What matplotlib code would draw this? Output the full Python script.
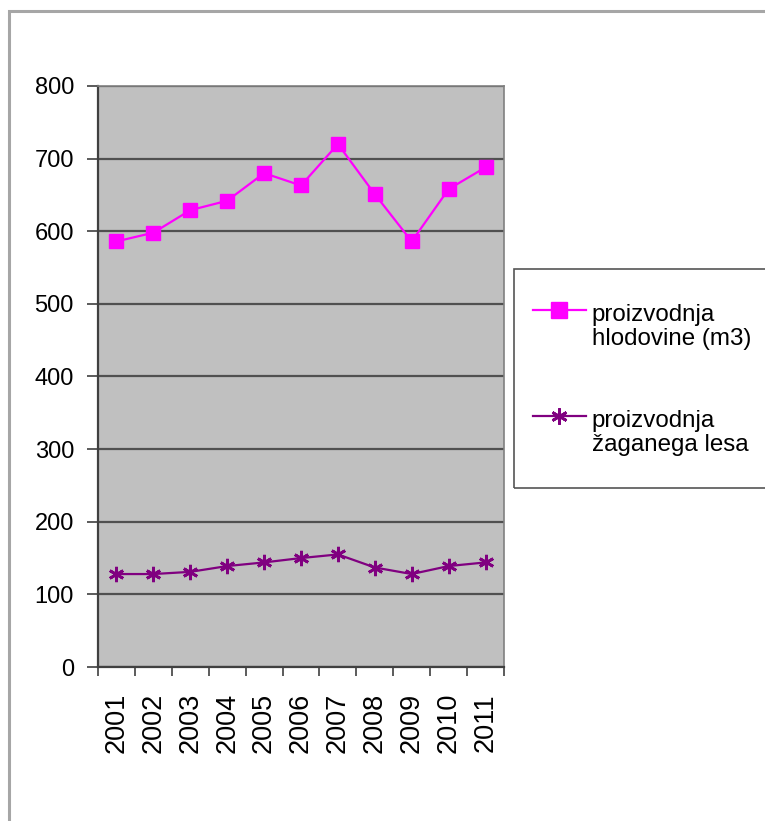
import matplotlib
matplotlib.use("Agg")
import matplotlib.pyplot as plt
from matplotlib.patches import Rectangle
from matplotlib.legend_handler import HandlerLine2D

years = ["2001", "2002", "2003", "2004", "2005", "2006", "2007", "2008", "2009", "2010", "2011"]
hlodovina = [586, 598, 629, 642, 680, 663, 720, 651, 586, 658, 688]
zagan_les = [128, 128, 131, 139, 144, 150, 155, 137, 128, 139, 144]
label_1 = "proizvodnja\nhlodovine (m3)"
label_2 = "proizvodnja\nžaganega lesa"
y_ticks = [0, 100, 200, 300, 400, 500, 600, 700, 800]

plt.rcParams['font.family'] = ['Liberation Sans', 'DejaVu Sans']


class UpperHandler(HandlerLine2D):
    """Place the legend handle level with the first line of a two-line label."""
    def __init__(self, shift, **kw):
        super().__init__(**kw)
        self.shift = shift

    def create_artists(self, legend, orig_handle, xdescent, ydescent, width, height,
                       fontsize, trans):
        arts = super().create_artists(legend, orig_handle, xdescent, ydescent, width,
                                      height, fontsize, trans)
        for a in arts:
            a.set_ydata([v + self.shift for v in a.get_ydata()])
        return arts


W, H = 765, 821
fig = plt.figure(figsize=(W / 100, H / 100), dpi=100)
fig.patch.set_facecolor('white')

# outer chart frame
fig.add_artist(Rectangle((9 / W, -0.05), 1.2, 1 - 11 / H + 0.05, transform=fig.transFigure,
                         fill=False, edgecolor='#a6a6a6', lw=2.2))

ax = fig.add_axes([98 / W, 1 - 667 / H, (504 - 98) / W, (667 - 86) / H])
ax.set_facecolor('#c0c0c0')
x = list(range(len(years)))
l1, = ax.plot(x, hlodovina, color='#ff00ff', lw=1.6, marker='s', markersize=10.5,
              markerfacecolor='#ff00ff', markeredgecolor='#ff00ff', label=label_1, zorder=3)
l2, = ax.plot(x, zagan_les, color='#800080', lw=1.6, marker=(6, 2, 0), markersize=11,
              markeredgewidth=2.0, markeredgecolor='#800080', label=label_2, zorder=3)

ax.set_xlim(-0.5, len(years) - 0.5)
ax.set_ylim(0, 800)
ax.set_yticks(y_ticks)
ax.set_yticklabels([str(v) for v in y_ticks], fontsize=17)
ax.set_xticks(x)
ax.set_xticklabels(years, rotation=90, fontsize=19.5)
ax.set_xticks([i - 0.5 for i in range(len(years) + 1)], minor=True)
ax.tick_params(axis='x', which='major', length=0, pad=18.7)
ax.tick_params(axis='x', which='minor', length=6.5, width=1.2, color='#404040')
ax.tick_params(axis='y', length=8, width=1.2, color='#404040', pad=9.3)

ax.grid(axis='y', color='#505050', lw=1.6)
ax.set_axisbelow(True)
for s in ['top', 'right']:
    ax.spines[s].set_color('#808080')
    ax.spines[s].set_linewidth(1.2)
for s in ['left', 'bottom']:
    ax.spines[s].set_color('#404040')
    ax.spines[s].set_linewidth(1.6)

# legend frame
fig.add_artist(Rectangle((514 / W, 1 - 488 / H), 1.0, (488 - 269) / H, transform=fig.transFigure,
                         fill=False, edgecolor='#555555', lw=1.2))
hm = {l1: UpperHandler(12), l2: UpperHandler(12)}
leg = fig.legend(handles=[l1, l2], loc='upper left', bbox_to_anchor=(533 / W, 1 - 304 / H),
                 frameon=False, fontsize=17.4, handlelength=2.19, handletextpad=0.24,
                 labelspacing=2.5, borderpad=0, borderaxespad=0, handler_map=hm,
                 markerscale=1.05)
for t in leg.get_texts():
    t.set_linespacing(1.1)

fig.savefig('out.png', dpi=100)
